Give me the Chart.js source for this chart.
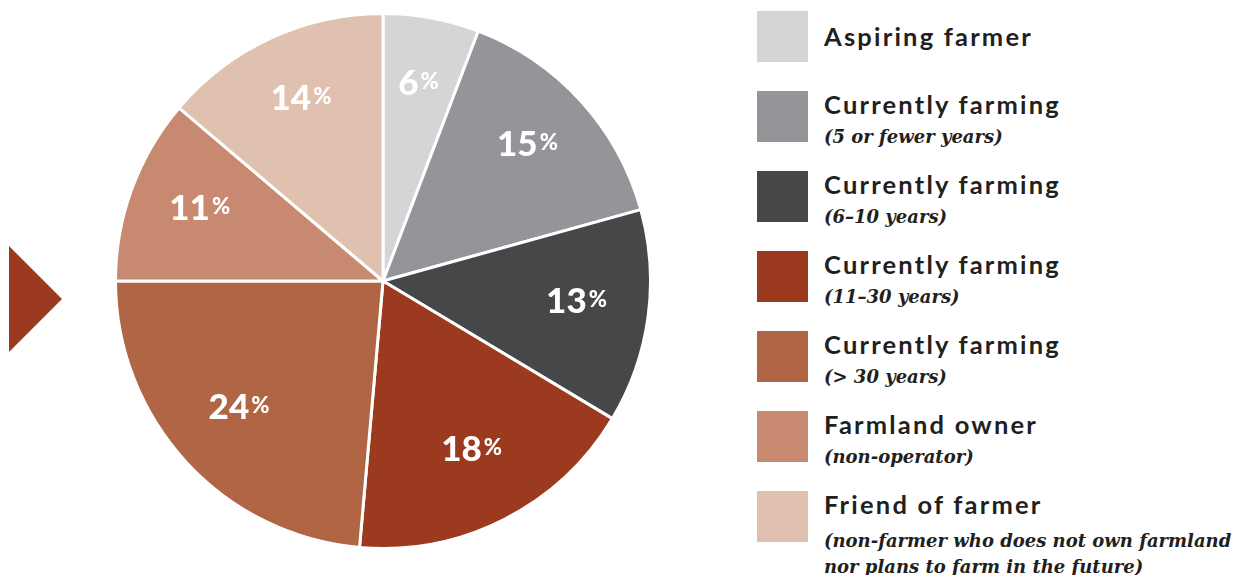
<!DOCTYPE html>
<html><head><meta charset="utf-8">
<script src="https://cdn.jsdelivr.net/npm/chart.js@4.4.1/dist/chart.umd.min.js"></script>
<style>
html,body{margin:0;padding:0;background:#fff;width:1243px;height:575px;overflow:hidden;position:relative;font-family:Lato,sans-serif;}
#pieWrap{position:absolute;left:114px;top:12px;width:538px;height:538px;}
#arrow{position:absolute;left:9px;top:246px;width:0;height:0;border-top:53px solid transparent;border-bottom:53px solid transparent;border-left:53px solid #9c3a20;}
.item{position:absolute;left:757px;height:52px;}
.sw{position:absolute;left:0;top:0;width:51px;height:51px;}
.txt{position:absolute;left:67px;top:0;white-space:nowrap;color:#231f20;}
.t{font-family:Lato,sans-serif;font-weight:700;font-size:25.5px;line-height:30px;letter-spacing:2.2px;}
.s{font-family:"DejaVu Serif",serif;font-style:italic;font-weight:700;font-size:18px;line-height:26px;}
.s.first{margin-top:5px;}
.s.first.multi{margin-top:9px;}
</style></head>
<body>
<div id="arrow"></div>
<div id="pieWrap"><canvas id="c"></canvas></div>
<div id="legend"></div>
<script>
const categories = ["Aspiring farmer","Currently farming","Currently farming","Currently farming","Currently farming","Farmland owner","Friend of farmer"];
const subtitles = ["","(5 or fewer years)","(6\u201310 years)","(11\u201330 years)","(> 30 years)","(non-operator)","(non-farmer who does not own farmland\nnor plans to farm in the future)"];
const shares = [5.8, 14.9, 12.9, 17.8, 23.6, 11.2, 13.8];
const shareLabels = ["6","15","13","18","24","11","14"];
const colors = ["#d4d5d7","#949598","#464749","#9c3a20","#b06544","#c78a70","#e0c0ae"];

// legend
const leg = document.getElementById('legend');
categories.forEach((c,i)=>{
  const it = document.createElement('div'); it.className='item'; it.style.top=(11+i*80)+'px';
  const sw = document.createElement('div'); sw.className='sw'; sw.style.background=colors[i]; it.appendChild(sw);
  const tx = document.createElement('div'); tx.className='txt';
  const t = document.createElement('div'); t.className='t'; t.textContent=c; tx.appendChild(t);
  if(subtitles[i]){
    const lines = subtitles[i].split('\n');
    lines.forEach((line,k)=>{const s=document.createElement('div'); s.className='s'+(k===0?' first':'')+(lines.length>1?' multi':''); s.textContent=line; tx.appendChild(s);});
    tx.style.top='-2px';
  } else { tx.style.top='10px'; }
  it.appendChild(tx); leg.appendChild(it);
});

const labelPlugin = {
  id:'pctLabels',
  afterDatasetsDraw(chart){
    const ctx = chart.ctx;
    const meta = chart.getDatasetMeta(0);
    meta.data.forEach((arc,i)=>{
      const p = arc.getProps(['x','y','startAngle','endAngle','outerRadius'], true);
      const mid = (p.startAngle+p.endAngle)/2;
      const r = p.outerRadius*0.73;
      const cx = p.x + Math.cos(mid)*r, cy = p.y + Math.sin(mid)*r;
      ctx.save();
      ctx.fillStyle='#ffffff';
      ctx.textBaseline='alphabetic';
      ctx.textAlign='left';
      const bigF = '900 35px Lato, sans-serif', smallF='900 22px Lato, sans-serif';
      ctx.font = bigF; const w1 = ctx.measureText(shareLabels[i]).width;
      ctx.font = smallF; const w2 = ctx.measureText('%').width;
      const gap = 2, tot = w1+gap+w2;
      const x0 = cx - tot/2, base = cy + 6;
      ctx.font = bigF; ctx.fillText(shareLabels[i], x0, base);
      ctx.font = smallF; ctx.fillText('%', x0+w1+gap, base-6);
      ctx.restore();
    });
  }
};

new Chart(document.getElementById('c'), {
  type:'pie',
  data:{labels:categories, datasets:[{data:shares, backgroundColor:colors, borderColor:'#ffffff', borderWidth:3}]},
  options:{responsive:true, maintainAspectRatio:false, animation:false,
    layout:{padding:0},
    plugins:{legend:{display:false}, tooltip:{enabled:false}}},
  plugins:[labelPlugin]
});
</script>
</body></html>
